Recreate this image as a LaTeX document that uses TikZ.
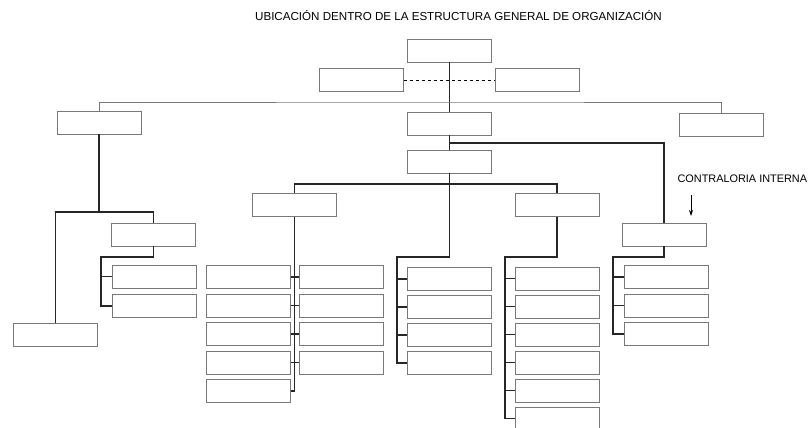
\documentclass[tikz,border=0pt]{standalone}
\usepackage{fontspec}
\setmainfont{Liberation Sans}
\usepackage{tikz}
\usetikzlibrary{arrows.meta}
\definecolor{boxline}{RGB}{120,120,120}

\begin{document}
\begin{tikzpicture}[x=1pt, y=-1pt,
    every node/.style={font=\fontsize{11.6}{13}\selectfont},
    box/.style={draw=boxline, line width=0.6pt, minimum width=84pt, minimum height=23pt, inner sep=0pt},
    conn/.style={line width=1.2pt, black!85}]
  \useasboundingbox (0,0) rectangle (812,428);
  \node (title) at (458.5,16) {UBICACIÓN DENTRO DE LA ESTRUCTURA GENERAL DE ORGANIZACIÓN};
  % upper levels
  \node[box] (top) at (449.5,50.5) {};
  \node[box] (staffl) at (361.5,80) {};
  \node[box] (staffr) at (537,80) {};
  \node[box] (left) at (99,122.5) {};
  \node[box] (center) at (449.5,123.5) {};
  \node[box] (right) at (721,124.5) {};
  \node[box] (sub) at (449.5,161.5) {};
  \node[box] (contra) at (664,234.5) {};
  \node[box] (heada) at (294.5,205) {};
  \node[box] (headb) at (557,205) {};
  \node[box] (lbox) at (153.5,234.5) {};
  \node[box] (lbot) at (55.5,335) {};
  \foreach \i/\y in {1/276.5, 2/306} { \node[box] (ls\i) at (154,\y) {}; }
  % columns
  \foreach \i in {1,...,5} { \node[box] (a\i) at (248.5,277+28.5*\i-28.5) {}; }
  \foreach \i in {1,...,4} { \node[box] (b\i) at (341.5,277+28.5*\i-28.5) {}; }
  \foreach \i in {1,...,4} { \node[box] (m\i) at (449.5,279+28*\i-28) {}; }
  \foreach \i in {1,...,6} { \node[box] (c\i) at (557.5,278.5+28*\i-28) {}; }
  \foreach \i in {1,...,3} { \node[box] (d\i) at (666,277+28.5*\i-28.5) {}; }
  \node[anchor=west, font=\fontsize{10.9}{13}\selectfont] (clab) at (674,179) {CONTRALORIA INTERNA};
  \coordinate (tip) at (691,216);
  \draw[-{Stealth[length=6pt,width=4pt]}, line width=0.8pt, shorten <=9pt] (clab.south -| tip) -- (tip);
  % connectors
  \coordinate (bar) at (449.5,102);
  \coordinate (jc) at (449.5,143);
  \coordinate (jl) at (99,212);
  \coordinate (js) at (101,257);
  \coordinate (jh) at (449.5,184);
  \coordinate (jm) at (397,257);
  \coordinate (jb) at (505,257);
  \coordinate (jd) at (613,257);
  \draw[conn] (top) -- (center);
  \draw[dashed, line width=0.9pt] (staffl) -- (staffr);
  \draw[boxline, line width=0.7pt] (left.north) |- (bar) -| (right.north);
  \draw[conn] (center) -- (sub);
  \draw[conn] (jc) -| (contra.north);
  \draw[conn] (left.south) -- (jl);
  \draw[conn] (lbot.north) |- (jl) -| (lbox.north);
  \draw[conn] (lbox.south) |- (js) |- (ls2.west);
  \draw[conn] (js |- ls1.west) -- (ls1.west);
  \draw[conn] (heada.north) |- (jh) -| (headb.north);
  \draw[conn] (heada.south) |- (a5.east);
  \foreach \i in {1,...,4} {
    \draw[conn] (a\i.east) -- (a\i.east -| heada.south);
    \draw[conn] (b\i.west) -- (b\i.west -| heada.south);
  }
  \draw[conn] (sub.south) |- (jm) |- (m4.west);
  \foreach \i in {1,...,3} { \draw[conn] (jm |- m\i.west) -- (m\i.west); }
  \draw[conn] (headb.south) |- (jb) |- (c6.west);
  \foreach \i in {1,...,5} { \draw[conn] (jb |- c\i.west) -- (c\i.west); }
  \draw[conn] (contra.south) |- (jd) |- (d3.west);
  \foreach \i in {1,...,2} { \draw[conn] (jd |- d\i.west) -- (d\i.west); }
\end{tikzpicture}
\end{document}
